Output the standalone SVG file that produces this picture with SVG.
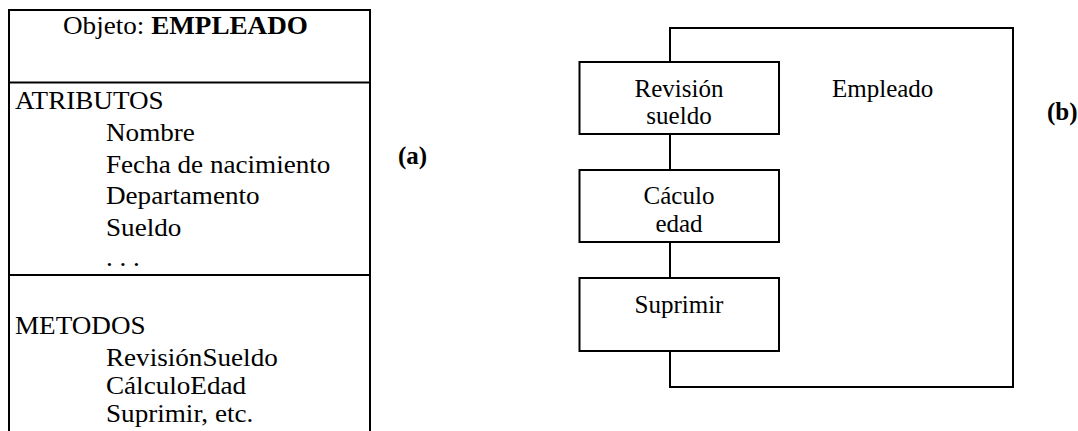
<svg xmlns="http://www.w3.org/2000/svg" width="1078" height="431" viewBox="0 0 1078 431" font-family="Liberation Serif, DejaVu Serif, serif">
<style>
text{font-family:'Liberation Serif','DejaVu Serif',serif;font-size:25px;fill:#000}
.b{font-weight:bold}
.box{fill:#fff;stroke:#000;stroke-width:2}
.ln{fill:none;stroke:#000;stroke-width:2}
</style>
<rect width="1078" height="431" fill="#fff"/>
<g id="objeto">
  <path class="ln" d="M9,440 V10 H370 V440"/>
  <line class="ln" x1="9" y1="82.5" x2="370" y2="82.5"/>
  <line class="ln" x1="9" y1="275" x2="370" y2="275"/>
  <text transform="translate(63,34) scale(1.085,1)">Objeto: <tspan class="b">EMPLEADO</tspan></text>
  <text transform="translate(15,108.5) scale(1.085,1)">ATRIBUTOS</text>
  <text transform="translate(106,141) scale(1.085,1)">Nombre</text>
  <text transform="translate(106,172.5) scale(1.085,1)">Fecha de nacimiento</text>
  <text transform="translate(106,204) scale(1.085,1)">Departamento</text>
  <text transform="translate(106,236) scale(1.085,1)">Sueldo</text>
  <text transform="translate(106,266) scale(1.085,1)">. . .</text>
  <text transform="translate(15,334) scale(1.085,1)">METODOS</text>
  <text transform="translate(106,366) scale(1.085,1)">RevisiónSueldo</text>
  <text transform="translate(106,394) scale(1.085,1)">CálculoEdad</text>
  <text transform="translate(106,422) scale(1.085,1)">Suprimir, etc.</text>
</g>
<g id="label-a"><text class="b" x="398" y="164">(a)</text></g>
<g id="connectors">
  <path class="ln" d="M670,62 V28 H1013 V387 H670 V351"/>
  <line class="ln" x1="670" y1="134" x2="670" y2="170"/>
  <line class="ln" x1="670" y1="242" x2="670" y2="278"/>
</g>
<g id="empleado"><text x="832" y="97">Empleado</text></g>
<g id="revision">
  <rect class="box" x="579.5" y="62" width="199.5" height="72"/>
  <text x="679" y="97" text-anchor="middle">Revisión</text>
  <text x="679" y="124" text-anchor="middle">sueldo</text>
</g>
<g id="calculo">
  <rect class="box" x="579.5" y="170" width="199.5" height="72"/>
  <text x="679" y="204" text-anchor="middle">Cáculo</text>
  <text x="679" y="232" text-anchor="middle">edad</text>
</g>
<g id="suprimir">
  <rect class="box" x="579.5" y="278" width="199.5" height="73"/>
  <text x="679" y="313" text-anchor="middle">Suprimir</text>
</g>
<g id="label-b"><text class="b" x="1047" y="120">(b)</text></g>
</svg>
